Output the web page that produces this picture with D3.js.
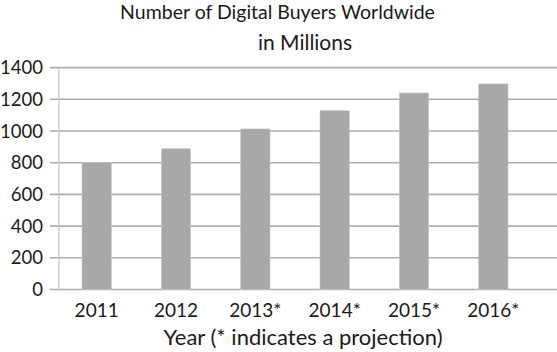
<!DOCTYPE html>
<html>
<head>
<meta charset="utf-8">
<script src="https://cdn.jsdelivr.net/npm/d3@7"></script>
<style>
  body { margin: 0; background: #fff; }
  svg { display: block; font-family: Lato, sans-serif; }
</style>
</head>
<body>
<div id="chart"></div>
<script>
  // data
  const years = ["2011", "2012", "2013*", "2014*", "2015*", "2016*"]
  const buyers = [800, 888, 1013, 1128, 1240, 1297]
  const yTicks = [0, 200, 400, 600, 800, 1000, 1200, 1400]
  const titleLines = ["Number of Digital Buyers Worldwide", "in Millions"]
  const xTitle = "Year (* indicates a projection)"

  const width = 557, height = 352
  const plotL = 57, plotR = 533, plotT = 67.6, plotB = 289.5

  const svg = d3.select("#chart").append("svg")
    .attr("width", width)
    .attr("height", height)

  const x = d3.scaleBand().domain(years).range([plotL, plotR]).paddingInner(0.63).paddingOuter(0.315)
  const y = d3.scaleLinear().domain([0, 1400]).range([plotB, plotT])

  //grid
  svg.append("g").selectAll("line").data(yTicks).join("line")
    .attr("x1", 50).attr("x2", width)
    .attr("y1", d => y(d)).attr("y2", d => y(d))
    .attr("stroke", "#aeaeb0").attr("stroke-width", 1.6)

  // y axis line
  svg.append("line")
    .attr("x1", 59).attr("x2", 59)
    .attr("y1", y(1400)).attr("y2", y(0))
    .attr("stroke", "#c4c4c6").attr("stroke-width", 1.2)

  //bars
  svg.append("g").selectAll("rect").data(buyers).join("rect")
    .attr("x", (d, i) => x(years[i]))
    .attr("width", x.bandwidth())
    .attr("y", d => y(d))
    .attr("height", d => y(0) - y(d))
    .attr("fill", "#a7a8aa")
    .attr("stroke", "#c8c8ca").attr("stroke-width", 0.6)

  // y labels
  svg.append("g").selectAll("text").data(yTicks).join("text")
    .attr("x", 43).attr("y", d => y(d))
    .attr("dy", "0.36em")
    .attr("text-anchor", "end")
    .attr("font-size", 18.5)
    .attr("fill", "#1a1a1a")
    .text(d => d)

  // x labels
  svg.append("g").selectAll("text").data(years).join("text")
    .attr("x", d => x(d) + x.bandwidth() / 2)
    .attr("y", 317)
    .attr("text-anchor", "middle")
    .attr("font-size", 19)
    .attr("fill", "#1a1a1a")
    .text(d => d)

  // titles (2nd line sits centred over the plot, 1st line a bit left)
  svg.append("g").selectAll("text").data(titleLines).join("text")
    .attr("x", (d, i) => i == 0 ? 277.5 : 305).attr("y", (d, i) => 18.5 + i * 31)
    .attr("text-anchor", "middle")
    .attr("font-size", (d, i) => i == 0 ? 19.5 : 21)
    .attr("fill", "#1a1a1a")
    .text(d => d)

  svg.append("text")
    .attr("x", 303).attr("y", 345)
    .attr("text-anchor", "middle")
    .attr("font-size", 22)
    .attr("fill", "#1a1a1a")
    .text(xTitle)
</script>
</body>
</html>
